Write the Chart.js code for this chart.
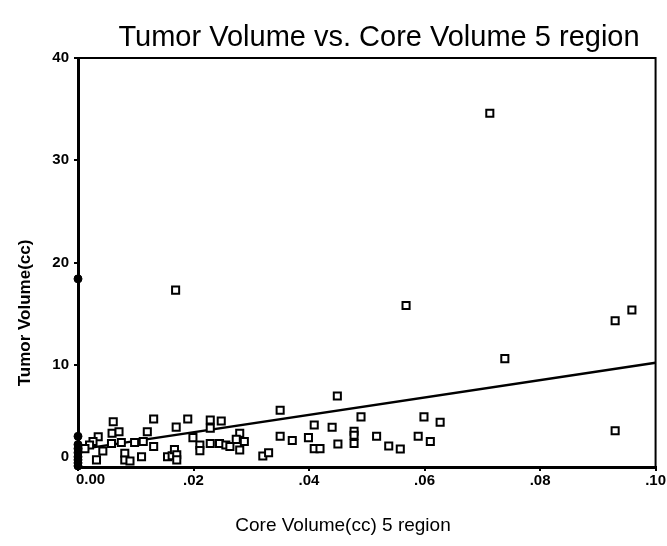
<!DOCTYPE html>
<html>
<head>
<meta charset="utf-8">
<script src="https://cdn.jsdelivr.net/npm/chart.js@4/dist/chart.umd.min.js"></script>
<style>
  html, body { margin: 0; padding: 0; background: #fff; }
  #wrap { width: 667px; height: 546px; }
</style>
</head>
<body>
<div id="wrap"><canvas id="scatter" width="667" height="546"></canvas></div>
<script>
// Core volume (cc) in the 5 region vs. tumor volume (cc)
const coreVolume = [
  0.0061, 0.0059, 0.0071, 0.0058, 0.0075, 0.0035, 0.0026, 0.0020, 0.0012, 0.0043,
  0.0032, 0.0081, 0.0081, 0.0090, 0.0110, 0.0098, 0.0120, 0.0131, 0.0113, 0.0131,
  0.0170, 0.0190, 0.0229, 0.0248, 0.0229, 0.0155, 0.0163, 0.0167, 0.0171, 0.0171,
  0.0199, 0.0211, 0.0211, 0.0229, 0.0245, 0.0256, 0.0280, 0.0274, 0.0263, 0.0288,
  0.0280, 0.0320, 0.0330, 0.0350, 0.0350, 0.0371, 0.0399, 0.0409, 0.0409, 0.0419,
  0.0440, 0.0449, 0.0450, 0.0478, 0.0478, 0.0478, 0.0490, 0.0517, 0.0538, 0.0558,
  0.0589, 0.0599, 0.0610, 0.0627, 0.0169, 0.0568, 0.0713, 0.0739, 0.0930, 0.0959,
  0.0930
];
const tumorVolume = [
  4.43, 3.30, 3.45, 2.30, 2.40, 2.96, 2.50, 2.15, 1.80, 1.56,
  0.70, 1.34, 0.68, 0.59, 1.00, 2.40, 3.45, 4.70, 2.50, 2.00,
  3.90, 4.70, 4.60, 4.50, 3.80, 1.00, 1.10, 1.70, 1.20, 0.70,
  2.87, 2.15, 1.60, 2.30, 2.30, 2.15, 3.30, 2.70, 2.00, 2.50,
  1.66, 1.07, 1.40, 5.55, 3.00, 2.60, 2.87, 4.10, 1.80, 1.80,
  3.88, 6.94, 2.25, 3.50, 3.10, 2.30, 4.90, 3.00, 2.05, 1.76,
  3.00, 4.90, 2.50, 4.37, 17.3, 15.8, 34.6, 10.6, 14.3, 15.35,
  3.55
];
// cases with zero core volume (sit on the y axis)
const zeroCoreTumor = [18.4, 3.0, 2.2, 1.8, 1.4, 1.0, 0.7, 0.4, 0.1];
// fitted line end points
const fitX = [0, 0.1];
const fitY = [1.7, 10.2];

const xTicks = [0, 0.02, 0.04, 0.06, 0.08, 0.1];
const yTicks = [0, 10, 20, 30, 40];

const titleText = 'Tumor Volume vs. Core Volume 5 region';
const xTitle = 'Core Volume(cc) 5 region';
const yTitle = 'Tumor Volume(cc)';
const FONT = '"Liberation Sans", Arial, Helvetica, sans-serif';

const toPoints = (xs, ys) => xs.map((x, i) => ({ x: x, y: ys[i] }));

// draws the frame, the titles and the shifted first labels
const textPlugin = {
  id: 'textPlugin',
  afterDraw(chart) {
    const ctx = chart.ctx;
    const a = chart.chartArea;
    ctx.save();
    ctx.strokeStyle = '#000';
    ctx.lineWidth = 2;
    ctx.beginPath();
    ctx.moveTo(a.left, a.top);
    ctx.lineTo(a.right, a.top);
    ctx.lineTo(a.right, a.bottom);
    ctx.stroke();

    ctx.fillStyle = '#000';
    ctx.textAlign = 'center';
    ctx.textBaseline = 'alphabetic';
    ctx.font = '29px ' + FONT;
    ctx.fillText(titleText, 379, 46);

    ctx.font = '19px ' + FONT;
    ctx.fillText(xTitle, 343, 531);

    ctx.font = 'bold 17px ' + FONT;
    ctx.translate(25, 313);
    ctx.rotate(-Math.PI / 2);
    ctx.textBaseline = 'middle';
    ctx.fillText(yTitle, 0, 0);
    ctx.restore();

    // first labels on each axis sit off their ticks, as in the original
    ctx.save();
    ctx.fillStyle = '#000';
    ctx.font = 'bold 15px ' + FONT;
    ctx.textBaseline = 'middle';
    ctx.textAlign = 'right';
    ctx.fillText('0', a.left - 9, chart.scales.y.getPixelForValue(0) - 10);
    ctx.textAlign = 'left';
    ctx.fillText('0.00', a.left - 2, a.bottom + 13);
    ctx.restore();
  }
};

new Chart(document.getElementById('scatter').getContext('2d'), {
  type: 'scatter',
  data: {
    datasets: [
      {
        label: 'Fit',
        type: 'line',
        data: toPoints(fitX, fitY),
        borderColor: '#000',
        borderWidth: 2.5,
        pointRadius: 0,
        fill: false,
        tension: 0,
        order: 3
      },
      {
        label: 'Cases',
        data: toPoints(coreVolume, tumorVolume),
        pointStyle: 'rect',
        pointRadius: 5,
        borderWidth: 2,
        borderColor: '#000',
        backgroundColor: '#fff',
        order: 1
      },
      {
        label: 'Zero core',
        data: zeroCoreTumor.map(v => ({ x: 0, y: v })),
        pointStyle: 'circle',
        pointRadius: 4,
        borderWidth: 1,
        borderColor: '#000',
        backgroundColor: '#000',
        order: 0
      }
    ]
  },
  options: {
    responsive: false,
    animation: false,
    clip: false,
    layout: { padding: { top: 58, right: 10, left: 0, bottom: 0 } },
    plugins: {
      legend: { display: false },
      title: { display: false },
      tooltip: { enabled: false }
    },
    scales: {
      x: {
        type: 'linear',
        min: 0,
        max: 0.1,
        afterBuildTicks: s => { s.ticks = xTicks.map(v => ({ value: v })); },
        afterFit: s => { s.height = 79; },
        border: { display: true, color: '#000', width: 3 },
        grid: { drawOnChartArea: false, color: '#000', tickLength: 4, lineWidth: 2 },
        ticks: {
          color: '#000',
          padding: 1,
          font: { family: FONT, size: 15, weight: 'bold' },
          callback: v => v === 0 ? '' : v.toFixed(2).replace(/^0/, '')
        }
      },
      y: {
        type: 'linear',
        min: 0,
        max: 40,
        afterBuildTicks: s => { s.ticks = yTicks.map(v => ({ value: v })); },
        afterFit: s => { s.width = 78; },
        border: { display: true, color: '#000', width: 3 },
        grid: { drawOnChartArea: false, color: '#000', tickLength: 4, lineWidth: 2 },
        ticks: {
          color: '#000',
          padding: 5,
          font: { family: FONT, size: 15, weight: 'bold' },
          callback: v => v === 0 ? '' : String(v)
        }
      }
    }
  },
  plugins: [textPlugin]
});
</script>
</body>
</html>
